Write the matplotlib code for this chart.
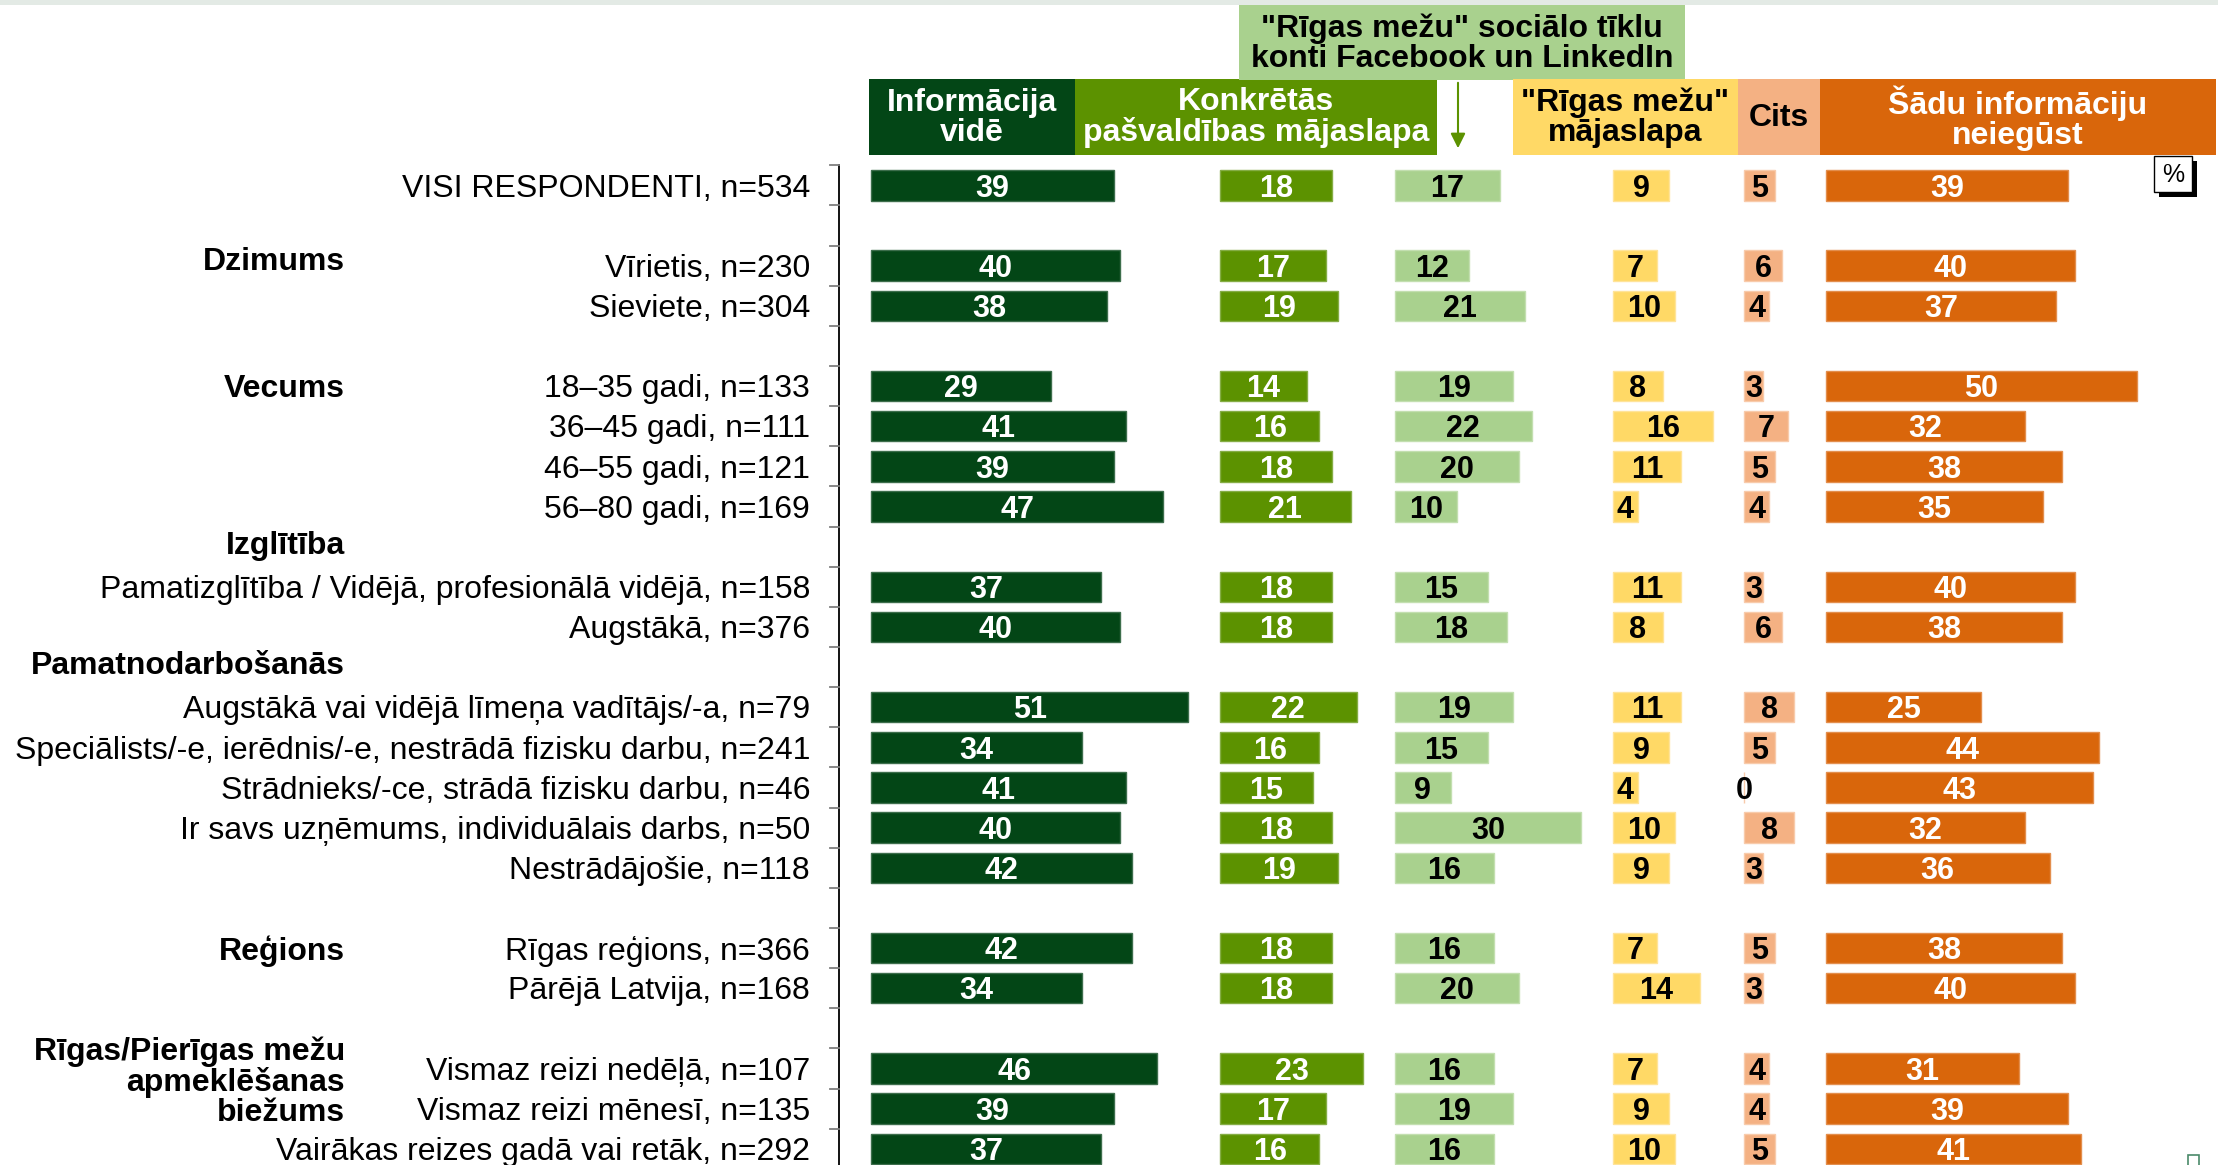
import matplotlib; matplotlib.use("Agg")
import matplotlib.pyplot as plt
from matplotlib.patches import Rectangle, FancyArrowPatch

plt.rcParams["font.family"] = ["Liberation Sans", "DejaVu Sans"]

# --- data ---------------------------------------------------------------
row_labels = [
    "VISI RESPONDENTI, n=534",
    "Vīrietis, n=230", "Sieviete, n=304",
    "18–35 gadi, n=133", "36–45 gadi, n=111", "46–55 gadi, n=121", "56–80 gadi, n=169",
    "Pamatizglītība / Vidējā, profesionālā vidējā, n=158", "Augstākā, n=376",
    "Augstākā vai vidējā līmeņa vadītājs/-a, n=79",
    "Speciālists/-e, ierēdnis/-e, nestrādā fizisku darbu, n=241",
    "Strādnieks/-ce, strādā fizisku darbu, n=46",
    "Ir savs uzņēmums, individuālais darbs, n=50",
    "Nestrādājošie, n=118",
    "Rīgas reģions, n=366", "Pārējā Latvija, n=168",
    "Vismaz reizi nedēļā, n=107", "Vismaz reizi mēnesī, n=135",
    "Vairākas reizes gadā vai retāk, n=292",
]
group_labels = ["Dzimums", "Vecums", "Izglītība", "Pamatnodarbošanās", "Reģions",
                "Rīgas/Pierīgas mežu\napmeklēšanas\nbiežums"]

series_names = ["Informācija\nvidē", "Konkrētās\npašvaldības mājaslapa",
                "\"Rīgas mežu\" sociālo tīklu\nkonti Facebook un LinkedIn",
                "\"Rīgas mežu\"\nmājaslapa", "Cits", "Šādu informāciju\nneiegūst"]
info_vide    = [39, 40, 38, 29, 41, 39, 47, 37, 40, 51, 34, 41, 40, 42, 42, 34, 46, 39, 37]
pasvaldiba   = [18, 17, 19, 14, 16, 18, 21, 18, 18, 22, 16, 15, 18, 19, 18, 18, 23, 17, 16]
soc_tikli    = [17, 12, 21, 19, 22, 20, 10, 15, 18, 19, 15,  9, 30, 16, 16, 20, 16, 19, 16]
rm_majaslapa = [ 9,  7, 10,  8, 16, 11,  4, 11,  8, 11,  9,  4, 10,  9,  7, 14,  7,  9, 10]
cits         = [ 5,  6,  4,  3,  7,  5,  4,  3,  6,  8,  5,  0,  8,  3,  5,  3,  4,  4,  5]
neiegust     = [39, 40, 37, 50, 32, 38, 35, 40, 38, 25, 44, 43, 32, 36, 38, 40, 31, 39, 41]
series = [info_vide, pasvaldiba, soc_tikli, rm_majaslapa, cits, neiegust]

# --- layout ---------------------------------------------------------------
row_slot = [0, 2, 3, 5, 6, 7, 8, 10, 11, 13, 14, 15, 16, 17, 19, 20, 22, 23, 24]
group_slot = [1.83, 5.0, 8.9, 11.9, 19.0, 22.27]

colors = ["#034616", "#5c9200", "#a9d18e", "#ffd966", "#f4b183", "#d9660b"]
edges = ["#3d6e4c", "#85ad45", "#c3dfb0", "#ffe49a", "#f8cbab", "#e38e4d"]
txt_colors = ["white", "white", "black", "black", "black", "white"]

W, H = 2218, 1165
X0, PX_PER_PCT = 871, 6.22        # left edge of first column, pixels per percent
Y0, ROW_STEP = 185.4, 40.14       # centre of first row, pixels per row
GAP = 5
DY = 0.08                         # nudge text down onto the bar centre line

fig = plt.figure(figsize=(W / 100, H / 100), dpi=100)
ax = fig.add_axes([0, 0, 1, 1])
ax.set_xlim(-X0 / PX_PER_PCT, (W - X0) / PX_PER_PCT)
ax.set_ylim((H - Y0) / ROW_STEP, -Y0 / ROW_STEP)
ax.axis("off")

def fx(px): return px / W
def fy(py): return 1 - py / H

def fig_box(x0, x1, y0, y1, fc, **kw):
    fig.patches.append(Rectangle((fx(x0), fy(y1)), fx(x1) - fx(x0), fy(y0) - fy(y1),
                                 transform=fig.transFigure, facecolor=fc, **kw))

# column baselines: each panel starts after the widest bar of the previous one
offsets = [0]
for vals in series[:-1]:
    offsets.append(offsets[-1] + max(vals) + GAP + 0.1)

for vals, off, c, ec, tc in zip(series, offsets, colors, edges, txt_colors):
    ax.barh(row_slot, vals, left=off, height=0.76, color=c, edgecolor=ec, linewidth=1)
    for s, v in zip(row_slot, vals):
        ax.text(off + v / 2, s + DY, str(v), ha="center", va="center",
                fontsize=22, fontweight="bold", color=tc)

# category axis with ticks at row boundaries
axis_u = (839.3 - X0) / PX_PER_PCT
ax.plot([axis_u, axis_u], [-0.5, 24.6], color="black", lw=1.3, clip_on=False)
for b in range(0, 26):
    ax.plot([axis_u - 1.45, axis_u], [b - 0.5, b - 0.5], color="#7f7f7f", lw=1.3)

for s, lab in zip(row_slot, row_labels):
    ax.text((810 - X0) / PX_PER_PCT, s + DY, lab, ha="right", va="center", fontsize=23)
for s, lab in zip(group_slot, group_labels):
    ax.text((345 - X0) / PX_PER_PCT, s + DY, lab, ha="right", va="center", fontsize=23,
            fontweight="bold", linespacing=1.0)

# header strip
fig_box(0, W, 0, 5, "#e3eae5", edgecolor="none")
hdr = [(869, 1075, 79, 155), (1075, 1437, 79, 155), (1239, 1685, 5, 80),
       (1513, 1738, 79, 155), (1738, 1820, 79, 155), (1820, 2216, 79, 155)]
for (x0, x1, y0, y1), name, c, tc in zip(hdr, series_names, colors, txt_colors):
    fig_box(x0, x1, y0, y1, c, edgecolor="none")
    fig.text(fx((x0 + x1) / 2), fy((y0 + y1) / 2 + 1), name, ha="center", va="center",
             fontsize=23, fontweight="bold", color=tc, linespacing=1.0)

fig.patches.append(FancyArrowPatch((fx(1458), fy(80)), (fx(1458), fy(151)),
                                   transform=fig.transFigure, arrowstyle="-|>",
                                   mutation_scale=22, color="#5c9200", lw=1.5))

# percent marker
fig_box(2159, 2197, 161, 197, "black", edgecolor="none")
fig_box(2154, 2192, 156, 192, "white", edgecolor="black", lw=1)
fig.text(fx(2173), fy(175), "%", ha="center", va="center", fontsize=18)
fig_box(2188, 2199, 1155, 1168, "none", edgecolor="#4a8a6a", lw=1.2)

fig.savefig("out.png", dpi=100)
